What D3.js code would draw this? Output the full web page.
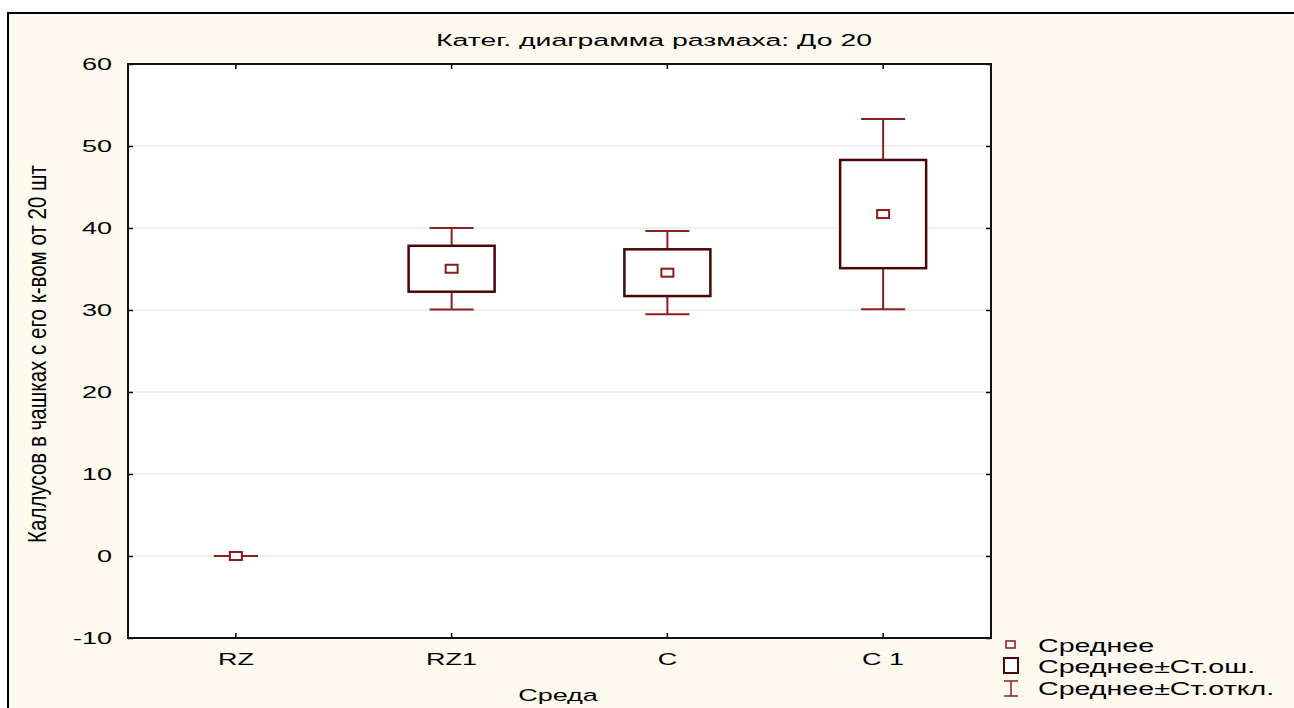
<!DOCTYPE html>
<html><head><meta charset="utf-8">
<script src="https://cdn.jsdelivr.net/npm/d3@7"></script>
<style>html,body{margin:0;padding:0;background:#fff;overflow:hidden}</style>
</head><body>
<svg id="c" width="1294" height="708"></svg>
<script>
const categories = ["RZ", "RZ1", "C", "C 1"];
const means = [0, 35.03, 34.55, 41.7];
const stdErr = [0, 2.8, 2.85, 6.6];
const stdDev = [0, 4.98, 5.08, 11.6];
const yTicks = [-10, 0, 10, 20, 30, 40, 50, 60];
const title = "Катег. диаграмма размаха: До 20";
const xTitle = "Среда";
const yTitle = "Каллусов в чашках с его  к-вом от 20 шт";
const legendLabels = ["Среднее", "Среднее±Ст.ош.", "Среднее±Ст.откл."];

const svg = d3.select("#c");
const SX = 1.59;
const FONT = "'Liberation Sans', Arial, sans-serif";
const m = {l: 128, t: 64, r: 991, b: 638};

svg.append("rect").attr("x", 8).attr("y", 13).attr("width", 1300).attr("height", 710)
  .attr("fill", "#fffaf0").attr("stroke", "#000").attr("stroke-width", 2);

const x = d3.scaleBand().domain(categories).range([m.l, m.r]);
const y = d3.scaleLinear().domain([-10, 60]).range([m.b, m.t]);

function stext(g, str, tx, ty, anchor, size) {
  return g.append("text").attr("transform", `translate(${tx},${ty}) scale(${SX},1)`)
    .attr("text-anchor", anchor).attr("font-family", FONT).attr("font-size", size || 17)
    .attr("fill", "#000").text(str);
}

// plot background
svg.append("rect").attr("x", m.l).attr("y", m.t).attr("width", m.r - m.l).attr("height", m.b - m.t).attr("fill", "#fff");

// grid
svg.append("g").selectAll("line").data(yTicks.filter(v => v > -10 && v < 60)).join("line")
  .attr("x1", m.l).attr("x2", m.r).attr("y1", d => y(d)).attr("y2", d => y(d))
  .attr("stroke", "#dedede").attr("stroke-width", 1);

// axes with inward ticks
const axL = d3.axisLeft(y).tickValues(yTicks).tickSize(-5).tickFormat("");
const axR = d3.axisRight(y).tickValues(yTicks).tickSize(-5).tickFormat("");
const axB = d3.axisBottom(x).tickSize(-5).tickFormat("");
const axT = d3.axisTop(x).tickSize(-5).tickFormat("");
[[axL, `translate(${m.l},0)`], [axR, `translate(${m.r},0)`], [axB, `translate(0,${m.b})`], [axT, `translate(0,${m.t})`]]
  .forEach(([ax, tr]) => {
    const g = svg.append("g").attr("transform", tr).call(ax);
    g.select(".domain").remove();
    g.selectAll(".tick line").attr("stroke", "#000").attr("stroke-width", 1.5);
  });
svg.append("rect").attr("x", m.l).attr("y", m.t).attr("width", m.r - m.l).attr("height", m.b - m.t)
  .attr("fill", "none").attr("stroke", "#111").attr("stroke-width", 2);

// tick labels
const lab = svg.append("g");
yTicks.forEach(v => stext(lab, String(v), 112, y(v) + 6, "end"));
categories.forEach(c => stext(lab, c, x(c) + x.bandwidth() / 2, 665, "middle"));

// boxes
const boxW = 86, capW = 44;
const marks = svg.append("g");
categories.forEach((c, i) => {
  const cx = x(c) + x.bandwidth() / 2;
  const mu = means[i], s = stdDev[i], e = stdErr[i];
  const wc = "#8b1f1f";
  marks.append("line").attr("x1", cx).attr("x2", cx).attr("y1", y(mu + s)).attr("y2", y(mu + e))
    .attr("stroke", wc).attr("stroke-width", 2);
  marks.append("line").attr("x1", cx).attr("x2", cx).attr("y1", y(mu - e)).attr("y2", y(mu - s))
    .attr("stroke", wc).attr("stroke-width", 2);
  [mu + s, mu - s].forEach(v => marks.append("line").attr("x1", cx - capW / 2).attr("x2", cx + capW / 2)
    .attr("y1", y(v)).attr("y2", y(v)).attr("stroke", wc).attr("stroke-width", 2));
  if (e > 0) {
    marks.append("rect").attr("x", cx - boxW / 2).attr("y", y(mu + e)).attr("width", boxW)
      .attr("height", y(mu - e) - y(mu + e)).attr("fill", "#fff").attr("stroke", "#4a0505").attr("stroke-width", 2.5);
  }
  marks.append("rect").attr("x", cx - 6).attr("y", y(mu) - 4).attr("width", 12).attr("height", 8)
    .attr("fill", "#fff").attr("stroke", "#8b1a1a").attr("stroke-width", 2);
});

// titles
stext(svg, title, 654, 46, "middle").attr("textLength", 436 / SX).attr("lengthAdjust", "spacingAndGlyphs");
stext(svg, xTitle, 558, 701, "middle");
svg.append("text").attr("transform", `translate(46,354) scale(${SX},1) rotate(-90)`)
  .attr("text-anchor", "middle").attr("font-family", "'Liberation Sans Narrow', 'Liberation Sans', sans-serif")
  .attr("font-size", 16).attr("textLength", 378).attr("lengthAdjust", "spacingAndGlyphs").text(yTitle);

// legend
const lg = svg.append("g");
lg.append("rect").attr("x", 1006).attr("y", 641).attr("width", 9).attr("height", 7)
  .attr("fill", "#fff").attr("stroke", "#8b1a1a").attr("stroke-width", 1.5);
lg.append("rect").attr("x", 1004).attr("y", 658).attr("width", 14).attr("height", 15)
  .attr("fill", "#fff").attr("stroke", "#4a0505").attr("stroke-width", 2);
lg.append("line").attr("x1", 1011).attr("x2", 1011).attr("y1", 681).attr("y2", 696).attr("stroke", "#8b1f1f").attr("stroke-width", 1.5);
lg.append("line").attr("x1", 1004).attr("x2", 1018).attr("y1", 681).attr("y2", 681).attr("stroke", "#8b1f1f").attr("stroke-width", 1.5);
lg.append("line").attr("x1", 1004).attr("x2", 1018).attr("y1", 696).attr("y2", 696).attr("stroke", "#8b1f1f").attr("stroke-width", 1.5);
[652, 673, 695].forEach((yy, i) => stext(lg, legendLabels[i], 1038, yy, "start", 18));
</script>
</body></html>
